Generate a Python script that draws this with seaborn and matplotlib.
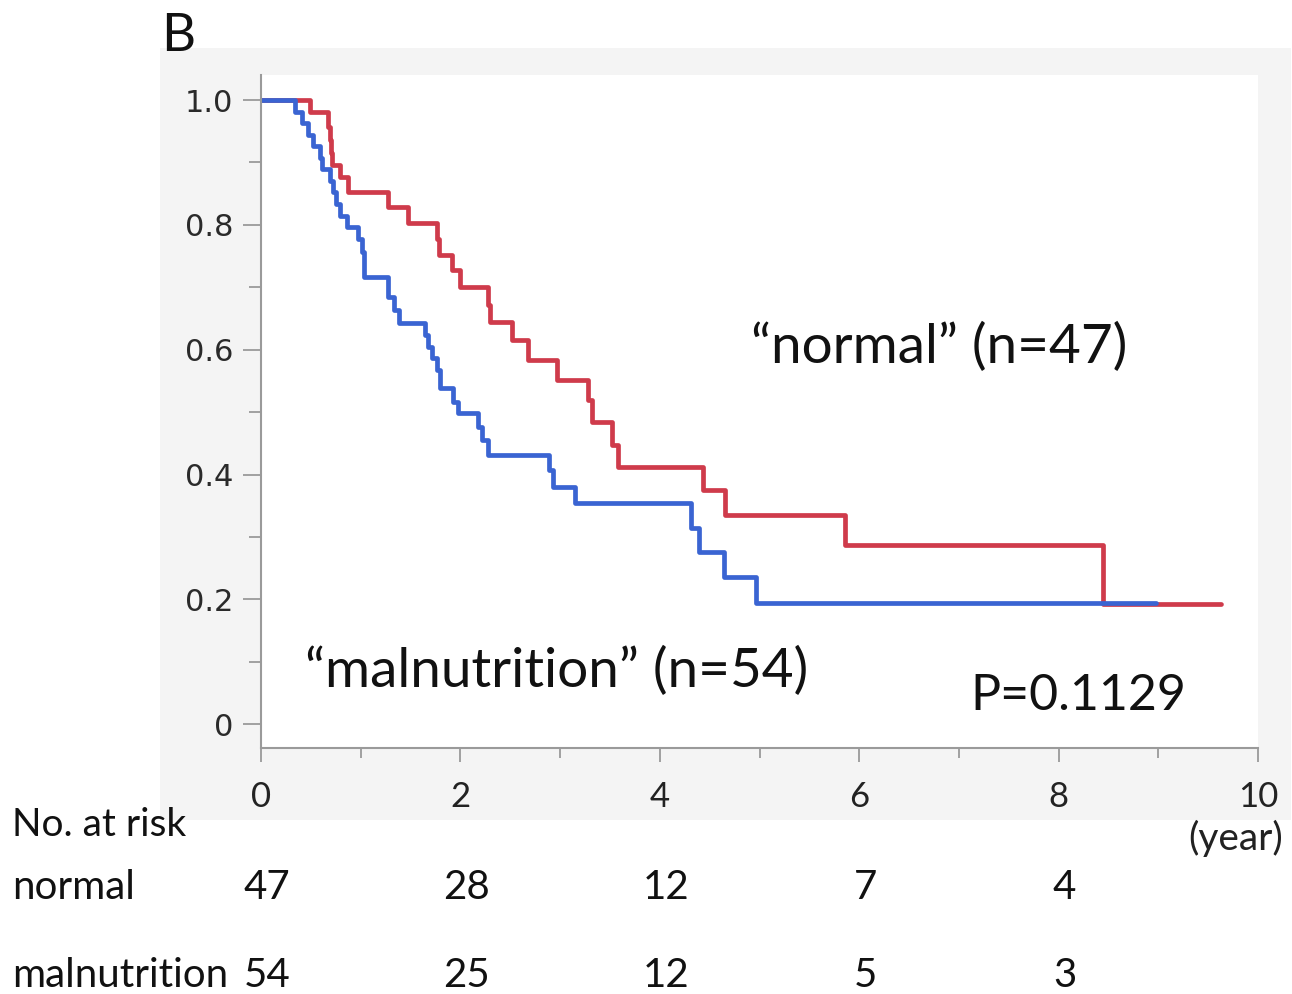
import matplotlib
matplotlib.use("Agg")
import matplotlib.pyplot as plt
import matplotlib.transforms as mtransforms
from matplotlib.patches import Rectangle
from matplotlib.ticker import MultipleLocator
import pandas as pd
import seaborn as sns

# ---------------- data ----------------
groups = ["normal", "malnutrition"]

normal_time = [0, 0.49, 0.67, 0.69, 0.70, 0.71, 0.79, 0.87, 1.27, 1.47, 1.77, 1.79,
               1.92, 2.00, 2.28, 2.30, 2.52, 2.68, 2.97, 3.28, 3.32, 3.52, 3.58,
               4.43, 4.65, 5.86, 8.45, 9.63]
normal_surv = [1.000, 0.981, 0.957, 0.936, 0.915, 0.896, 0.877, 0.853, 0.829, 0.803,
               0.778, 0.752, 0.728, 0.700, 0.672, 0.644, 0.615, 0.583, 0.551, 0.519,
               0.484, 0.447, 0.412, 0.375, 0.335, 0.287, 0.192, 0.192]

mal_time = [0, 0.34, 0.41, 0.47, 0.52, 0.59, 0.61, 0.69, 0.72, 0.75, 0.79, 0.86,
            0.97, 1.01, 1.03, 1.27, 1.33, 1.38, 1.65, 1.68, 1.72, 1.77, 1.80, 1.93,
            1.98, 2.18, 2.22, 2.28, 2.89, 2.93, 3.15, 4.31, 4.39, 4.64, 4.96, 8.98]
mal_surv = [1.000, 0.981, 0.963, 0.944, 0.926, 0.907, 0.889, 0.870, 0.852, 0.833,
            0.815, 0.796, 0.778, 0.756, 0.717, 0.684, 0.663, 0.643, 0.624, 0.605,
            0.586, 0.567, 0.538, 0.516, 0.498, 0.476, 0.455, 0.431, 0.407, 0.380,
            0.354, 0.315, 0.276, 0.236, 0.194, 0.194]

risk_times = [0, 2, 4, 6, 8]
risk_normal = [47, 28, 12, 7, 4]
risk_mal = [54, 25, 12, 5, 3]

x_ticks = [0, 2, 4, 6, 8, 10]
y_ticks = [0, 0.2, 0.4, 0.6, 0.8, 1.0]
y_tick_labels = ["0", "0.2", "0.4", "0.6", "0.8", "1.0"]

colors = {"normal": "#cf3b4b", "malnutrition": "#3a64d2"}

# ---------------- figure ----------------
sns.set_theme(style="ticks")
plt.rcParams["font.family"] = ["Lato", "DejaVu Sans"]

fig = plt.figure(figsize=(12.92, 9.94), dpi=100)
fig.patch.set_facecolor("white")
fig.patches.append(Rectangle((0.124, 0.175), 0.875, 0.777, transform=fig.transFigure,
                             facecolor="#f4f4f4", edgecolor="none", zorder=-5))

ax = fig.add_axes([0.2020, 0.2475, 0.7717, 0.677])
ax.set_zorder(2)
ax.set_facecolor("white")

df = pd.concat([
    pd.DataFrame({"time": normal_time, "survival": normal_surv, "group": "normal"}),
    pd.DataFrame({"time": mal_time, "survival": mal_surv, "group": "malnutrition"}),
], ignore_index=True)

sns.lineplot(data=df, x="time", y="survival", hue="group", hue_order=groups,
             palette=colors, drawstyle="steps-post", estimator=None,
             legend=False, linewidth=3.4, ax=ax)

ax.set_xlim(0, 10)
ax.set_ylim(-0.038, 1.04)
ax.set_xlabel("")
ax.set_ylabel("")

ax.set_xticks(x_ticks)
ax.set_xticklabels([str(v) for v in x_ticks])
ax.xaxis.set_minor_locator(MultipleLocator(1))
ax.set_yticks(y_ticks)
ax.set_yticklabels(y_tick_labels)
ax.yaxis.set_minor_locator(MultipleLocator(0.1))

sns.despine(ax=ax)
for side in ("left", "bottom"):
    ax.spines[side].set_color("#9a9a9a")
    ax.spines[side].set_linewidth(1.5)

ax.tick_params(axis="both", which="both", color="#9a9a9a", width=1.3, direction="out")
ax.tick_params(axis="x", which="major", length=10, pad=14, labelsize=25, labelcolor="#222222")
ax.tick_params(axis="x", which="minor", length=7)
ax.tick_params(axis="y", which="major", length=13, pad=7, labelsize=22, labelcolor="#2a2a2a")
ax.tick_params(axis="y", which="minor", length=9)
for lbl in ax.get_yticklabels():
    lbl.set_fontfamily(["DejaVu Sans"])

# annotations inside the plot
ax.text(4.91, 0.604, "\u201cnormal\u201d (n=47)", fontsize=39.5, color="#111111",
        ha="left", va="center")
ax.text(0.44, 0.085, "\u201cmalnutrition\u201d (n=54)", fontsize=39.5, color="#111111",
        ha="left", va="center")
ax.text(7.12, 0.046, "P=0.1129", fontsize=36, color="#111111", ha="left", va="center")

# panel letter
fig.text(0.125, 0.963, "B", fontsize=38, color="#111111", ha="left", va="center")

# number-at-risk table
fig.text(0.009, 0.170, "No. at risk", fontsize=28, color="#111111", ha="left", va="center")
fig.text(0.993, 0.157, "(year)", fontsize=28, color="#222222", ha="right", va="center")
fig.text(0.009, 0.107, "normal", fontsize=29, color="#111111", ha="left", va="center")
fig.text(0.009, 0.019, "malnutrition", fontsize=29, color="#111111", ha="left", va="center")

trans = mtransforms.blended_transform_factory(ax.transData, fig.transFigure)
trans = trans + mtransforms.ScaledTranslation(6 / 100, 0, fig.dpi_scale_trans)
for t, n in zip(risk_times, risk_normal):
    ax.text(t, 0.107, str(n), transform=trans, fontsize=29, color="#111111",
            ha="center", va="center", clip_on=False)
for t, n in zip(risk_times, risk_mal):
    ax.text(t, 0.019, str(n), transform=trans, fontsize=29, color="#111111",
            ha="center", va="center", clip_on=False)

fig.savefig("out.png", dpi=100, facecolor=fig.get_facecolor())
